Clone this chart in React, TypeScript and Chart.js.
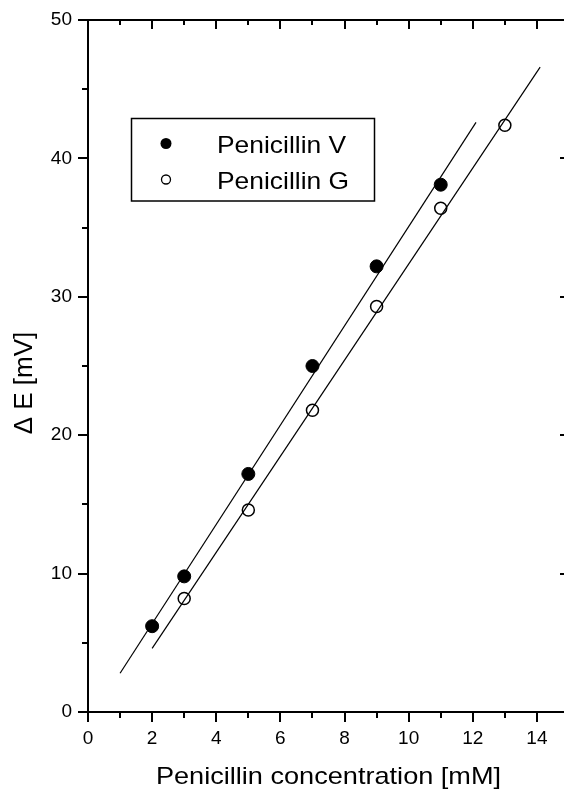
import React, { useEffect, useRef } from "react";
import { Chart, registerables } from "chart.js";

Chart.register(...registerables);

// ---- data ----
const penVx = [2, 3, 5, 7, 9, 11];
const penVy = [6.2, 9.8, 17.2, 25.0, 32.2, 38.1];
const penGx = [3, 5, 7, 9, 11, 13];
const penGy = [8.2, 14.6, 21.8, 29.3, 36.4, 42.4];

// fitted lines (end points)
const fitVx = [1, 12.1];
const fitVy = [2.8, 42.6];
const fitGx = [2, 14.1];
const fitGy = [4.6, 46.6];

const xMajorTicks = [0, 2, 4, 6, 8, 10, 12, 14];
const xMinorTicks = [1, 3, 5, 7, 9, 11, 13, 15];
const yMajorTicks = [0, 10, 20, 30, 40, 50];
const yMinorTicks = [5, 15, 25, 35, 45];

const legendLabels = ["Penicillin V", "Penicillin G"];
const xTitle = "Penicillin concentration [mM]";
const yTitle = "Δ E [mV]";

const FONT = '"Liberation Sans", Arial, Helvetica, sans-serif';

const zip = (xs: number[], ys: number[]) => xs.map((x, i) => ({ x, y: ys[i] }));

const decorPlugin = {
  id: "decor",
  afterDraw(chart: any) {
    const { ctx, chartArea } = chart;
    const xs = chart.scales.x;
    const ys = chart.scales.y;
    const { left, right, top, bottom } = chartArea;
    ctx.save();
    ctx.strokeStyle = "#000";
    ctx.fillStyle = "#000";

    // minor ticks on bottom / left (outward)
    ctx.lineWidth = 2;
    ctx.beginPath();
    xMinorTicks.forEach((v) => {
      const px = Math.round(xs.getPixelForValue(v));
      ctx.moveTo(px, bottom);
      ctx.lineTo(px, bottom + 6);
    });
    yMinorTicks.forEach((v) => {
      const py = Math.round(ys.getPixelForValue(v));
      ctx.moveTo(left, py);
      ctx.lineTo(left - 6, py);
    });
    ctx.stroke();

    // top and right axes with inward ticks
    ctx.beginPath();
    ctx.moveTo(left - 1, top);
    ctx.lineTo(right, top);
    ctx.lineTo(right, bottom);
    xMajorTicks.forEach((v) => {
      const px = Math.round(xs.getPixelForValue(v));
      ctx.moveTo(px, top);
      ctx.lineTo(px, top + 9);
    });
    xMinorTicks.forEach((v) => {
      const px = Math.round(xs.getPixelForValue(v));
      ctx.moveTo(px, top);
      ctx.lineTo(px, top + 5);
    });
    yMajorTicks.forEach((v) => {
      const py = Math.round(ys.getPixelForValue(v));
      ctx.moveTo(right, py);
      ctx.lineTo(right - 9, py);
    });
    yMinorTicks.forEach((v) => {
      const py = Math.round(ys.getPixelForValue(v));
      ctx.moveTo(right, py);
      ctx.lineTo(right - 5, py);
    });
    ctx.stroke();

    // legend
    const bx = left + 43.5;
    const by = top + 98.5;
    const bw = 243;
    const bh = 82.5;
    ctx.lineWidth = 1.5;
    ctx.strokeRect(bx, by, bw, bh);
    const mx = bx + 34.5;
    const rows = [by + 25, by + 61];
    ctx.beginPath();
    ctx.arc(mx, rows[0], 5.5, 0, Math.PI * 2);
    ctx.fill();
    ctx.lineWidth = 1.3;
    ctx.beginPath();
    ctx.arc(mx, rows[1], 4.5, 0, Math.PI * 2);
    ctx.stroke();
    ctx.font = `24px ${FONT}`;
    ctx.textAlign = "left";
    ctx.textBaseline = "alphabetic";
    legendLabels.forEach((t, i) => {
      ctx.save();
      ctx.translate(bx + 85.5, rows[i] + 9);
      ctx.scale(1.1, 1);
      ctx.fillText(t, 0, 0);
      ctx.restore();
    });

    // x title
    ctx.save();
    ctx.font = `24px ${FONT}`;
    ctx.textAlign = "center";
    ctx.translate((left + right) / 2, 784);
    ctx.scale(1.13, 1);
    ctx.fillText(xTitle, 0, 0);
    ctx.restore();

    // y title
    ctx.save();
    ctx.font = `26px ${FONT}`;
    ctx.textAlign = "center";
    ctx.textBaseline = "alphabetic";
    ctx.translate(32, 383);
    ctx.rotate(-Math.PI / 2);
    ctx.fillText(yTitle, 0, 0);
    ctx.restore();

    ctx.restore();
  },
};

export default function App() {
  const ref = useRef<HTMLCanvasElement | null>(null);

  useEffect(() => {
    if (!ref.current) return;
    const chart = new Chart(ref.current, {
      type: "scatter",
      data: {
        datasets: [
          {
            label: legendLabels[0],
            data: zip(penVx, penVy),
            pointRadius: 6.5,
            pointBackgroundColor: "#000",
            pointBorderColor: "#000",
            pointBorderWidth: 1,
            showLine: false,
            order: 0,
          },
          {
            label: legendLabels[1],
            data: zip(penGx, penGy),
            pointRadius: 6,
            pointBackgroundColor: "rgba(0,0,0,0)",
            pointBorderColor: "#000",
            pointBorderWidth: 1.5,
            showLine: false,
            order: 0,
          },
          {
            label: "fitV",
            data: zip(fitVx, fitVy),
            showLine: true,
            borderColor: "#000",
            borderWidth: 1.2,
            pointRadius: 0,
            fill: false,
            order: 1,
          },
          {
            label: "fitG",
            data: zip(fitGx, fitGy),
            showLine: true,
            borderColor: "#000",
            borderWidth: 1.2,
            pointRadius: 0,
            fill: false,
            order: 1,
          },
        ],
      },
      options: {
        responsive: false,
        animation: false,
        layout: { padding: { top: 20, right: 31, left: 0, bottom: 0 } },
        plugins: {
          legend: { display: false },
          tooltip: { enabled: false },
        },
        scales: {
          x: {
            type: "linear",
            min: 0,
            max: 15,
            afterBuildTicks: (s: any) => {
              s.ticks = xMajorTicks.map((v) => ({ value: v }));
            },
            afterFit: (s: any) => {
              s.height = 77;
            },
            ticks: {
              color: "#000",
              font: { family: FONT, size: 19 },
              padding: 5,
              maxRotation: 0,
              autoSkip: false,
            },
            grid: {
              drawOnChartArea: false,
              drawTicks: true,
              tickLength: 10,
              lineWidth: 2,
              color: "#000",
            },
            border: { display: true, color: "#000", width: 2 },
          },
          y: {
            type: "linear",
            min: 0,
            max: 50,
            afterBuildTicks: (s: any) => {
              s.ticks = yMajorTicks.map((v) => ({ value: v }));
            },
            afterFit: (s: any) => {
              s.width = 88;
            },
            ticks: {
              color: "#000",
              font: { family: FONT, size: 19 },
              padding: 6,
              autoSkip: false,
            },
            grid: {
              drawOnChartArea: false,
              drawTicks: true,
              tickLength: 10,
              lineWidth: 2,
              color: "#000",
            },
            border: { display: true, color: "#000", width: 2 },
          },
        },
      },
      plugins: [decorPlugin],
    });
    return () => chart.destroy();
  }, []);

  return (
    <div
      style={{
        position: "fixed",
        left: 0,
        top: 0,
        width: 564,
        height: 789,
        overflow: "hidden",
        background: "#fff",
      }}
    >
      <canvas ref={ref} width={600} height={789} style={{ display: "block", width: 600, height: 789 }} />
    </div>
  );
}
